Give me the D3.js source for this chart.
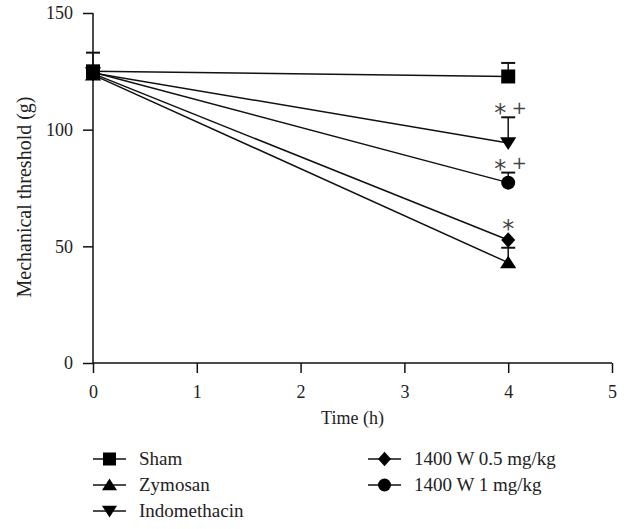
<!DOCTYPE html>
<html>
<head>
<meta charset="utf-8">
<script src="https://cdn.jsdelivr.net/npm/d3@7"></script>
<style>
    body { margin: 0; background: #fff; }
    text { font-family: "Liberation Serif", "DejaVu Serif", serif; fill: #222; }
    text.sig { font-family: "DejaVu Sans", sans-serif; fill: #444; }
</style>
</head>
<body>
<svg id="chart" width="628" height="529"></svg>
<script>
const times = [0, 4];
const seriesNames = ["Sham", "Zymosan", "Indomethacin", "1400 W 0.5 mg/kg", "1400 W 1 mg/kg"];
const shamValues = [125, 122.8];
const zymosanValues = [123.5, 43];
const indomethacinValues = [124.3, 94.3];
const w05Values = [124, 52.7];
const w1Values = [124.6, 77.3];
// upward error bars (SEM), 0 = hidden behind marker
const shamErr = [8, 5.8];
const zymosanErr = [0, 6.4];
const indomethacinErr = [0, 11];
const w05Err = [0, 0];
const w1Err = [0, 4.3];
const marks = [["*", "+"], ["*", "+"], ["*"]];
const xTicks = [0, 1, 2, 3, 4, 5];
const yTicks = [0, 50, 100, 150];

const series = [
    { name: seriesNames[0], values: shamValues, err: shamErr, shape: "square" },
    { name: seriesNames[1], values: zymosanValues, err: zymosanErr, shape: "up" },
    { name: seriesNames[2], values: indomethacinValues, err: indomethacinErr, shape: "down" },
    { name: seriesNames[3], values: w05Values, err: w05Err, shape: "diamond" },
    { name: seriesNames[4], values: w1Values, err: w1Err, shape: "circle" }
];

const svg = d3.select("#chart");
const x = d3.scaleLinear().domain([0, 5]).range([93, 612]);
const y = d3.scaleLinear().domain([0, 150]).range([363, 13]);

// axes
const gx = svg.append("g").attr("transform", "translate(0," + y(0) + ")")
    .call(d3.axisBottom(x).tickValues(xTicks).tickSize(10).tickPadding(12).tickFormat(d3.format("d")));
const gy = svg.append("g").attr("transform", "translate(" + x(0) + ",0)")
    .call(d3.axisLeft(y).tickValues(yTicks).tickSize(10).tickPadding(10).tickFormat(d3.format("d")));
[gx, gy].forEach(g => {
    g.select(".domain").attr("stroke", "#111").attr("stroke-width", 1.5);
    g.selectAll(".tick line").attr("stroke", "#111").attr("stroke-width", 1.5);
    g.selectAll(".tick text").attr("font-size", 18).attr("fill", "#222");
});
gx.select(".domain").attr("d", "M" + x(0) + ",0H" + x(5));
gy.select(".domain").attr("d", "M0," + y(0) + "V" + y(150));

svg.append("text").attr("x", (x(0) + x(5)) / 2).attr("y", 424)
    .attr("text-anchor", "middle").attr("font-size", 18).text("Time (h)");
svg.append("text").attr("transform", "translate(31,197) rotate(-90)")
    .attr("text-anchor", "middle").attr("font-size", 20).text("Mechanical threshold (g)");

function symbolPath(shape, s) {
    if (shape === "square") return d3.symbol(d3.symbolSquare, s * s)();
    if (shape === "circle") return d3.symbol(d3.symbolCircle, Math.PI * s * s / 4)();
    if (shape === "diamond") return "M0," + (-s * 0.55) + "L" + (s * 0.5) + ",0L0," + (s * 0.55) + "L" + (-s * 0.5) + ",0Z";
    const h = s * 0.9, b = s * 0.58;
    if (shape === "up") return "M0," + (-h * 0.55) + "L" + b + "," + (h * 0.45) + "L" + (-b) + "," + (h * 0.45) + "Z";
    return "M0," + (h * 0.55) + "L" + b + "," + (-h * 0.45) + "L" + (-b) + "," + (-h * 0.45) + "Z";
}

const line = d3.line().x((d, i) => x(times[i])).y(d => y(d));
const plot = svg.append("g");

series.forEach(s => {
    plot.append("path").datum(s.values).attr("d", line)
        .attr("fill", "none").attr("stroke", "#111").attr("stroke-width", 1.5);
});

series.forEach(s => {
    s.values.forEach((v, i) => {
        if (s.err[i] > 0) {
            const top = y(v + s.err[i]);
            plot.append("line").attr("x1", x(times[i])).attr("x2", x(times[i]))
                .attr("y1", y(v)).attr("y2", top).attr("stroke", "#111").attr("stroke-width", 1.5);
            plot.append("line").attr("x1", x(times[i]) - 7).attr("x2", x(times[i]) + 7)
                .attr("y1", top).attr("y2", top).attr("stroke", "#111").attr("stroke-width", 2);
        }
    });
});

series.forEach(s => {
    s.values.forEach((v, i) => {
        plot.append("path").attr("d", symbolPath(s.shape, 14))
            .attr("transform", "translate(" + x(times[i]) + "," + y(v) + ")")
            .attr("fill", "#000");
    });
});

// significance marks above the 4 h points
const markSeries = [series[2], series[4], series[3]];
markSeries.forEach((s, k) => {
    const topVal = s.values[1] + s.err[1];
    const cy = y(topVal) - (s.err[1] > 0 ? 10 : 17);
    const m = marks[k];
    m.forEach((ch, j) => {
        const dx = m.length === 1 ? 0 : (j === 0 ? -8 : 11);
        const fs = ch === "*" ? 24 : 18;
        const lift = ch === "*" ? 0.58 : 0.36;
        svg.append("text").attr("class", "sig")
            .attr("x", x(4) + dx).attr("y", cy + lift * fs)
            .attr("text-anchor", "middle")
            .attr("font-size", fs)
            .text(ch);
    });
});

// legend
const legendItems = [
    { s: series[0], lx: 93, ly: 459 },
    { s: series[1], lx: 93, ly: 485 },
    { s: series[2], lx: 93, ly: 511 },
    { s: series[3], lx: 368, ly: 459 },
    { s: series[4], lx: 368, ly: 485 }
];
const lg = svg.append("g");
legendItems.forEach(d => {
    lg.append("line").attr("x1", d.lx).attr("x2", d.lx + 33).attr("y1", d.ly).attr("y2", d.ly)
        .attr("stroke", "#111").attr("stroke-width", 1.5);
    lg.append("path").attr("d", symbolPath(d.s.shape, 13))
        .attr("transform", "translate(" + (d.lx + 16.5) + "," + d.ly + ")").attr("fill", "#000");
    lg.append("text").attr("x", d.lx + 46).attr("y", d.ly + 6)
        .attr("font-size", 19).text(d.s.name);
});
</script>
</body>
</html>
